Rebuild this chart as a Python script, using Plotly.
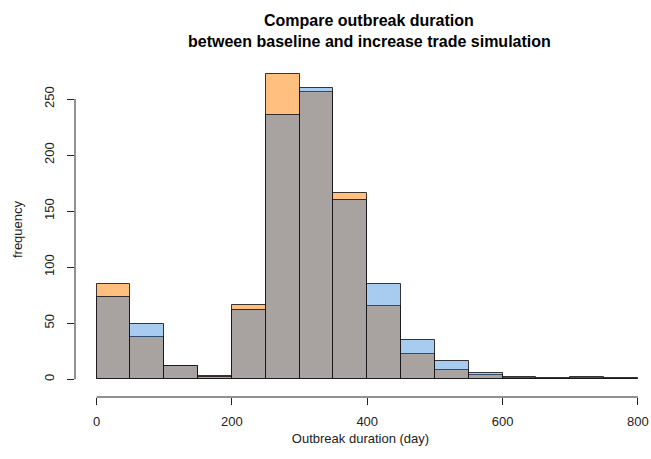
import plotly.graph_objects as go

# Histogram bins (days) and counts per bin for each simulation
bin_edges = [0, 50, 100, 150, 200, 250, 300, 350, 400, 450, 500, 550, 600, 650, 700, 750, 800]
baseline_counts = [73, 49, 12, 2, 62, 236, 260, 160, 85, 35, 16, 6, 2, 1, 2, 1]
trade_counts = [85, 38, 12, 3, 66, 272, 256, 166, 65, 23, 8, 4, 1, 0, 1, 0]

x_ticks = [0, 200, 400, 600, 800]
y_ticks = [0, 50, 100, 150, 200, 250]

left_edges = bin_edges[:-1]
widths = [b - a for a, b in zip(bin_edges[:-1], bin_edges[1:])]

bar_line = dict(color="rgba(25,20,20,0.85)", width=1)
font_family = "Liberation Sans, Arial, sans-serif"

fig = go.Figure()
fig.add_trace(go.Bar(
    x=left_edges, y=trade_counts, width=widths, offset=0,
    name="increase trade",
    marker=dict(color="rgba(255,127,0,0.5)", line=bar_line),
))
fig.add_trace(go.Bar(
    x=left_edges, y=baseline_counts, width=widths, offset=0,
    name="baseline",
    marker=dict(color="rgba(26,118,216,0.38)", line=bar_line),
))

# R-style axis lines spanning only the tick range
axis_style = dict(color="#222", width=1)
fig.add_shape(type="line", xref="x", yref="paper",
              x0=x_ticks[0], x1=x_ticks[-1], y0=0, y1=0, line=axis_style)
fig.add_shape(type="line", xref="paper", yref="y",
              x0=0, x1=0, y0=y_ticks[0], y1=y_ticks[-1], line=axis_style)

# Two-line bold title
title_lines = ["Compare outbreak duration",
               "between baseline and increase trade simulation"]
for i, line in enumerate(title_lines):
    fig.add_annotation(
        text=f"<b>{line}</b>", xref="paper", yref="paper",
        x=0.515, y=1, yshift=42 - 21 * i, yanchor="middle",
        xanchor="center", showarrow=False,
        font=dict(family=font_family, size=16, color="#000"),
    )

fig.update_layout(
    width=651, height=459,
    margin=dict(l=75, r=2, t=62, b=62),
    paper_bgcolor="white", plot_bgcolor="white",
    barmode="overlay", bargap=0, showlegend=False,
    font=dict(family=font_family, size=13, color="#222"),
)
fig.update_xaxes(
    range=[-31.9, 812], showgrid=False, zeroline=False, showline=False,
    tickmode="array", tickvals=x_ticks, ticktext=[str(v) for v in x_ticks],
    ticks="outside", ticklen=7, tickcolor="#222", tickwidth=1,
    ticklabelstandoff=5, ticklabeloverflow="allow",
    title=dict(text="Outbreak duration (day)", standoff=6,
               font=dict(size=13, color="#222")),
)
fig.update_yaxes(
    range=[-15.8, 283], showgrid=False, zeroline=False, showline=False,
    tickmode="array", tickvals=y_ticks, ticktext=[str(v) for v in y_ticks],
    tickangle=-90, ticklabelstandoff=8,
    ticks="outside", ticklen=7, tickcolor="#222", tickwidth=1,
    title=dict(text="frequency", standoff=16,
               font=dict(size=13, color="#222")),
)

fig.write_html("out.html")
